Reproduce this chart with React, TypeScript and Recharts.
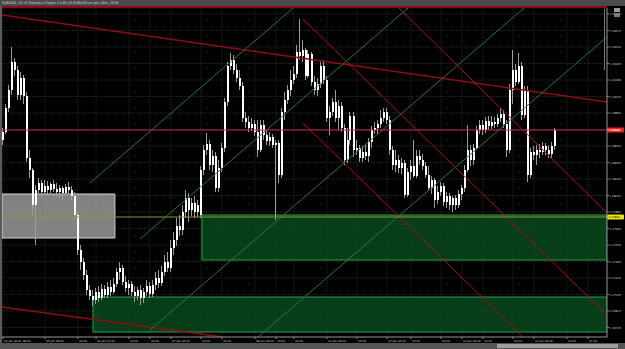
import {
  Bar,
  CartesianGrid,
  ComposedChart,
  ReferenceArea,
  ReferenceLine,
  XAxis,
  YAxis,
} from 'recharts'

// EURUSD H1 candles: [open, high, low, close]
const ohlc: [number, number, number, number][] = [
  [1.0858, 1.087, 1.0853, 1.0866], [1.0866, 1.0894, 1.0864, 1.089], [1.089, 1.0913, 1.0886, 1.0908],
  [1.0908, 1.0951, 1.0903, 1.0936], [1.0936, 1.094, 1.0922, 1.0928], [1.0928, 1.0932, 1.0898, 1.0903],
  [1.0903, 1.0926, 1.0898, 1.092], [1.092, 1.0923, 1.0894, 1.0902], [1.0902, 1.0906, 1.0836, 1.084],
  [1.084, 1.0848, 1.082, 1.0828], [1.0828, 1.083, 1.0783, 1.0793], [1.0793, 1.0813, 1.0753, 1.0808],
  [1.0808, 1.082, 1.0802, 1.0815], [1.0815, 1.0818, 1.0801, 1.0806], [1.0806, 1.0818, 1.0803, 1.0812],
  [1.0812, 1.0817, 1.0804, 1.0808], [1.0808, 1.0816, 1.0805, 1.0814], [1.0814, 1.0818, 1.0806, 1.0809],
  [1.0809, 1.0815, 1.0801, 1.0806], [1.0806, 1.0813, 1.08, 1.081], [1.081, 1.0812, 1.0798, 1.0805],
  [1.0805, 1.0814, 1.0802, 1.0811], [1.0811, 1.0816, 1.0803, 1.0808], [1.0808, 1.0812, 1.0798, 1.0802],
  [1.0802, 1.0806, 1.0778, 1.0783], [1.0783, 1.0786, 1.0743, 1.0748], [1.0748, 1.0753, 1.0728, 1.0736],
  [1.0736, 1.074, 1.0718, 1.0723], [1.0723, 1.0728, 1.0703, 1.0708], [1.0708, 1.0713, 1.0698, 1.0702],
  [1.0702, 1.0708, 1.0692, 1.0698], [1.0698, 1.071, 1.0694, 1.0706], [1.0706, 1.0712, 1.0696, 1.07],
  [1.07, 1.0714, 1.0698, 1.0709], [1.0709, 1.0713, 1.07, 1.0703], [1.0703, 1.0716, 1.07, 1.0711],
  [1.0711, 1.0718, 1.0702, 1.0706], [1.0706, 1.072, 1.0704, 1.0714], [1.0714, 1.073, 1.0711, 1.0726],
  [1.0726, 1.0736, 1.0718, 1.073], [1.073, 1.0733, 1.0713, 1.0716], [1.0716, 1.0722, 1.0706, 1.071],
  [1.071, 1.0718, 1.0703, 1.0714], [1.0714, 1.0717, 1.0702, 1.0706], [1.0706, 1.0712, 1.0696, 1.0702],
  [1.0702, 1.0711, 1.0698, 1.0708], [1.0708, 1.0713, 1.0693, 1.07], [1.07, 1.071, 1.0695, 1.0706],
  [1.0706, 1.0718, 1.0702, 1.0712], [1.0712, 1.0716, 1.07, 1.0704], [1.0704, 1.0718, 1.0701, 1.0713],
  [1.0713, 1.0726, 1.0708, 1.072], [1.072, 1.0728, 1.071, 1.0715], [1.0715, 1.0732, 1.0712, 1.0726],
  [1.0726, 1.0743, 1.0722, 1.0736], [1.0736, 1.0746, 1.0726, 1.073], [1.073, 1.0758, 1.0726, 1.075],
  [1.075, 1.0766, 1.0743, 1.0758], [1.0758, 1.078, 1.0752, 1.0772], [1.0772, 1.0783, 1.0762, 1.0768],
  [1.0768, 1.0793, 1.0763, 1.0786], [1.0786, 1.0808, 1.078, 1.08], [1.08, 1.0805, 1.0776, 1.0788],
  [1.0788, 1.08, 1.0782, 1.0795], [1.0795, 1.0802, 1.078, 1.0786], [1.0786, 1.0798, 1.0781, 1.0793],
  [1.0783, 1.0832, 1.078, 1.0828], [1.0828, 1.0853, 1.0823, 1.0848], [1.0848, 1.0865, 1.0843, 1.0854],
  [1.0854, 1.0858, 1.0828, 1.0833], [1.0833, 1.0848, 1.0826, 1.0842], [1.0842, 1.0846, 1.0806, 1.081],
  [1.081, 1.0838, 1.0806, 1.083], [1.083, 1.0855, 1.0826, 1.085], [1.085, 1.09, 1.0846, 1.0896],
  [1.0896, 1.0936, 1.0892, 1.0932], [1.0932, 1.0945, 1.0928, 1.0938], [1.0938, 1.0943, 1.0924, 1.0928],
  [1.0928, 1.0934, 1.0916, 1.092], [1.092, 1.0928, 1.0908, 1.0912], [1.0912, 1.0916, 1.0876, 1.088],
  [1.088, 1.0886, 1.087, 1.0876], [1.0876, 1.0882, 1.0866, 1.087], [1.087, 1.088, 1.0867, 1.0874],
  [1.0874, 1.0878, 1.0862, 1.0866], [1.0866, 1.0878, 1.0841, 1.0848], [1.0848, 1.0878, 1.0846, 1.0873],
  [1.0873, 1.0878, 1.0858, 1.0863], [1.0863, 1.0868, 1.0853, 1.0857], [1.0857, 1.0866, 1.0852, 1.0861],
  [1.0861, 1.0864, 1.085, 1.0853], [1.0853, 1.0858, 1.0778, 1.0855], [1.0855, 1.0858, 1.0815, 1.0823],
  [1.0823, 1.089, 1.082, 1.0886], [1.0886, 1.0906, 1.0878, 1.0898], [1.0898, 1.0913, 1.0894, 1.0908],
  [1.0908, 1.0928, 1.0902, 1.0918], [1.0918, 1.0932, 1.0914, 1.0924], [1.0924, 1.0953, 1.092, 1.0946],
  [1.0946, 1.0979, 1.0938, 1.0942], [1.0942, 1.0958, 1.0936, 1.0948], [1.0948, 1.095, 1.0918, 1.0922],
  [1.0922, 1.0948, 1.092, 1.0944], [1.0944, 1.0946, 1.0912, 1.0916], [1.0916, 1.0922, 1.0903, 1.0908],
  [1.0908, 1.092, 1.0902, 1.0914], [1.0914, 1.0936, 1.091, 1.0932], [1.0932, 1.0938, 1.0914, 1.0918],
  [1.0918, 1.0922, 1.0876, 1.088], [1.088, 1.0892, 1.0863, 1.0886], [1.0886, 1.09, 1.0882, 1.0896],
  [1.0896, 1.0908, 1.0876, 1.088], [1.088, 1.0898, 1.0868, 1.0892], [1.0892, 1.0896, 1.0866, 1.087],
  [1.087, 1.0874, 1.0833, 1.0838], [1.0838, 1.087, 1.0835, 1.0858], [1.0858, 1.0886, 1.0853, 1.0882],
  [1.0882, 1.0886, 1.0841, 1.0848], [1.0848, 1.0858, 1.0843, 1.085], [1.085, 1.0853, 1.0836, 1.084],
  [1.084, 1.0852, 1.0836, 1.0846], [1.0846, 1.0853, 1.0838, 1.0842], [1.0842, 1.086, 1.0836, 1.0856],
  [1.0856, 1.0872, 1.085, 1.0868], [1.0868, 1.0876, 1.0864, 1.087], [1.087, 1.0878, 1.0864, 1.0874],
  [1.0874, 1.0888, 1.087, 1.088], [1.088, 1.089, 1.0876, 1.0886], [1.0886, 1.089, 1.0874, 1.0878],
  [1.0878, 1.0882, 1.0843, 1.0848], [1.0848, 1.0852, 1.0828, 1.0833], [1.0833, 1.0848, 1.0826, 1.0838],
  [1.0838, 1.0843, 1.0825, 1.083], [1.083, 1.084, 1.0824, 1.0835], [1.0835, 1.0838, 1.08, 1.0803],
  [1.0803, 1.083, 1.0801, 1.0826], [1.0826, 1.0838, 1.0818, 1.0832], [1.0832, 1.0858, 1.082, 1.0822],
  [1.0822, 1.0848, 1.082, 1.0842], [1.0842, 1.0848, 1.0833, 1.0838], [1.0838, 1.0844, 1.0828, 1.0832],
  [1.0832, 1.0836, 1.082, 1.0823], [1.0823, 1.0832, 1.0807, 1.081], [1.081, 1.0822, 1.0804, 1.0818],
  [1.0818, 1.082, 1.079, 1.0798], [1.0798, 1.0812, 1.0794, 1.0806], [1.0806, 1.0816, 1.0802, 1.0812],
  [1.0812, 1.0815, 1.0792, 1.0796], [1.0796, 1.0806, 1.079, 1.0802], [1.0802, 1.0805, 1.0788, 1.0793],
  [1.0793, 1.0802, 1.0786, 1.08], [1.08, 1.0803, 1.0788, 1.0793], [1.0793, 1.0808, 1.079, 1.0804],
  [1.0804, 1.0813, 1.0798, 1.081], [1.081, 1.0833, 1.0806, 1.0828], [1.0828, 1.0873, 1.0826, 1.0848],
  [1.0848, 1.0853, 1.0832, 1.0838], [1.0838, 1.0854, 1.0833, 1.085], [1.085, 1.0872, 1.0848, 1.0868],
  [1.0868, 1.0878, 1.0864, 1.0873], [1.0873, 1.0878, 1.0863, 1.0868], [1.0868, 1.0881, 1.0865, 1.0877],
  [1.0877, 1.0882, 1.0868, 1.0872], [1.0872, 1.0882, 1.0869, 1.0876], [1.0876, 1.0881, 1.087, 1.0874],
  [1.0874, 1.0884, 1.0871, 1.088], [1.088, 1.089, 1.0876, 1.0884], [1.0884, 1.0888, 1.087, 1.0874],
  [1.0874, 1.0878, 1.0841, 1.0848], [1.0848, 1.0914, 1.0845, 1.0908], [1.0908, 1.0948, 1.0894, 1.0928],
  [1.0928, 1.0934, 1.0912, 1.0916], [1.0916, 1.0945, 1.0914, 1.0932], [1.0932, 1.0936, 1.0878, 1.0883],
  [1.0883, 1.0912, 1.088, 1.0908], [1.0908, 1.0912, 1.0816, 1.0823], [1.0823, 1.085, 1.082, 1.0846],
  [1.0846, 1.0852, 1.0838, 1.0843], [1.0843, 1.0853, 1.0833, 1.0848], [1.0848, 1.0854, 1.084, 1.0846],
  [1.0846, 1.0856, 1.0843, 1.0852], [1.0852, 1.0855, 1.0843, 1.0848], [1.0848, 1.0853, 1.084, 1.0844],
  [1.0844, 1.0856, 1.084, 1.0852], [1.0852, 1.087, 1.0848, 1.0868],
]

const priceTicks = [
  1.0984, 1.09675, 1.0951, 1.09345, 1.0918, 1.09015, 1.0885, 1.08685, 1.0852, 1.08355,
  1.0819, 1.08025, 1.0786, 1.07695, 1.0753, 1.07365, 1.072, 1.07035, 1.0687, 1.06705,
]
const timeTicks = [0, 14, 25, 31, 42, 49, 56, 66, 73, 84, 91, 97, 108, 118, 128, 136, 146, 153, 160, 170, 177, 188, 195]
const timeLabels = [
  '04 Jan 2016, 18:00', '05 Jan 08:00', '19:00', '06 Jan 01:00', '12:00', '19:00', '07 Jan 02:00',
  '12:00', '19:00', '08 Jan 06:00', '13:00', '19:00', '11 Jan 06:00', '16:00', '12 Jan 02:00',
  '10:00', '20:00', '13 Jan 03:00', '10:00', '20:00', '14 Jan 03:00', '14:00', '21:00',
]

// drawn objects, in bar index / price
const currentPrice = 1.0868
const supportLevel = 1.0781
const trendLines: [number, number, number, number][] = [
  [-0.33, 1.0983, 201.33, 1.0896],
  [-0.33, 1.0691, 73.3, 1.0661],
]
const channel: [number, number, number, number][] = [
  [29, 1.0815, 96.7, 1.099],
  [45.7, 1.0759, 135, 1.099],
  [49, 1.0668, 173.7, 1.099],
  [85, 1.0661, 201.33, 1.0961],
]
const rays: [number, number, number, number][] = [
  [100, 1.0979, 201.33, 1.0683],
  [132, 1.099, 201.33, 1.0785],
  [100, 1.0875, 173.3, 1.0661],
]
const grayZone = [-0.33, 37.3, 1.076, 1.0804]
const demandZones: [number, number, number, number][] = [
  [66.3, 201.33, 1.0738, 1.0783],
  [30, 201.33, 1.0666, 1.0701],
]

const rows = ohlc.map(([o, h, l, c], i) => ({ i, o, h, l, c, range: [l, h] }))

const FONT = '"DejaVu Sans", sans-serif'

function Candle(props: any) {
  const { x, y, width, height, payload } = props
  const { o, h, l, c } = payload
  const top = Math.min(y, y + height)
  const hh = Math.abs(height)
  const k = h - l > 0 ? hh / (h - l) : 0
  const cx = Math.round(x + width / 2)
  const b1 = top + (h - Math.max(o, c)) * k
  const b2 = top + (h - Math.min(o, c)) * k
  return (
    <g>
      <rect x={cx - 1} y={top} width={1} height={Math.max(hh, 1)} fill="#9c9c9c" />
      <rect x={cx - 1} y={b1} width={2} height={Math.max(b2 - b1, 1)} fill="#ffffff" />
    </g>
  )
}

function TimeTick({ x, y, payload }: any) {
  const idx = timeTicks.indexOf(payload.value)
  return (
    <text x={x + 1} y={y + 2.6} fill="#c8c8c8" fontSize={2.8} fontFamily={FONT} textAnchor="start">
      {timeLabels[idx]}
    </text>
  )
}

function PriceTick({ x, y, payload }: any) {
  return (
    <text x={x + 0.5} y={y + 1} fill="#c8c8c8" fontSize={2.8} fontFamily={FONT} textAnchor="start">
      {payload.value.toFixed(5)}
    </text>
  )
}

function priceTag(bg: string, fg: string, value: number) {
  return (p: any) => {
    const vb = p.viewBox || {}
    const right = (vb.x ?? 0) + (vb.width ?? 0)
    const yy = vb.y ?? 0
    return (
      <g>
        <rect x={right} y={yy - 2.5} width={17} height={5} rx={1} fill={bg} />
        <text x={right + 1.5} y={yy + 1} fill={fg} fontSize={2.8} fontFamily={FONT}>
          {value.toFixed(5)}
        </text>
      </g>
    )
  }
}

export default function App() {
  return (
    <div
      style={{
        position: 'fixed',
        left: 0,
        top: 0,
        width: 625,
        height: 349,
        background: '#000',
        overflow: 'hidden',
        fontFamily: FONT,
      }}
    >
      <ComposedChart
        width={625}
        height={349}
        data={rows}
        margin={{ top: 8, right: 0, left: 2, bottom: 6 }}
      >
        <CartesianGrid stroke="#262626" strokeDasharray="1 1" />
        <XAxis
          dataKey="i"
          type="number"
          domain={[-1 / 3, 604 / 3]}
          allowDataOverflow
          ticks={timeTicks}
          interval={0}
          height={6}
          tickSize={2}
          tickMargin={0}
          stroke="#8a8a8a"
          tick={<TimeTick />}
        />
        <YAxis
          orientation="right"
          type="number"
          domain={[1.0661, 1.099]}
          allowDataOverflow
          ticks={priceTicks}
          interval={0}
          width={18}
          tickSize={2}
          tickMargin={0}
          stroke="#8a8a8a"
          tick={<PriceTick />}
        />
        <ReferenceArea
          x1={grayZone[0]}
          x2={grayZone[1]}
          y1={grayZone[2]}
          y2={grayZone[3]}
          fill="#b4b4b4"
          fillOpacity={0.72}
          stroke="#d2d2d2"
          ifOverflow="hidden"
        />
        {demandZones.map(([x1, x2, y1, y2], k) => (
          <ReferenceArea
            key={'z' + k}
            x1={x1}
            x2={x2}
            y1={y1}
            y2={y2}
            fill="#0a4a20"
            fillOpacity={0.82}
            stroke="#28a04a"
            ifOverflow="hidden"
          />
        ))}
        <Bar dataKey="range" barSize={2} shape={<Candle />} isAnimationActive={false} />
        {trendLines.map(([x1, y1, x2, y2], k) => (
          <ReferenceLine
            key={'t' + k}
            segment={[{ x: x1, y: y1 }, { x: x2, y: y2 }]}
            stroke="#8e0c16"
            strokeWidth={1.5}
            ifOverflow="hidden"
          />
        ))}
        {channel.map(([x1, y1, x2, y2], k) => (
          <ReferenceLine
            key={'c' + k}
            segment={[{ x: x1, y: y1 }, { x: x2, y: y2 }]}
            stroke="#1e7a3c"
            strokeWidth={1}
            ifOverflow="hidden"
          />
        ))}
        {rays.map(([x1, y1, x2, y2], k) => (
          <ReferenceLine
            key={'r' + k}
            segment={[{ x: x1, y: y1 }, { x: x2, y: y2 }]}
            stroke="#b40a16"
            strokeWidth={1}
            ifOverflow="hidden"
          />
        ))}
        <ReferenceLine
          y={supportLevel}
          stroke="#8c9a2a"
          strokeWidth={1}
          label={priceTag('#e8e810', '#000', supportLevel)}
        />
        <ReferenceLine
          y={currentPrice}
          stroke="#c4284a"
          strokeWidth={1}
          label={priceTag('#ff1c1c', '#fff', currentPrice)}
        />
      </ComposedChart>

      {/* title bar */}
      <div
        style={{
          position: 'absolute',
          left: 0,
          top: 0,
          width: 625,
          height: 6,
          background: '#4b4b4b',
          color: '#dcdcdc',
          fontSize: 3.4,
          lineHeight: '6px',
          paddingLeft: 2,
          whiteSpace: 'nowrap',
        }}
      >
        EURUSD, H1  IC Markets cTrader 11:45:20 EURUSD on Jan 15th, 2016
      </div>
      <div style={{ position: 'absolute', left: 0, top: 6, width: 607, height: 1.5, background: '#8a0c14' }} />
      {/* left border */}
      <div style={{ position: 'absolute', left: 0, top: 6, width: 1.5, height: 337, background: '#5a5a5a' }} />
      {/* corner icons and ruler */}
      <div style={{ position: 'absolute', left: 614, top: 8, width: 6, height: 4, background: '#9a9a9a' }} />
      <div style={{ position: 'absolute', left: 614, top: 13, width: 6, height: 4, background: '#7a7a7a' }} />
      <div style={{ position: 'absolute', left: 604, top: 9, width: 1, height: 61, background: '#7c7c7c' }} />
      {/* scroll bar */}
      <div style={{ position: 'absolute', left: 0, top: 343, width: 625, height: 6, background: '#555' }} />
      <div style={{ position: 'absolute', left: 497, top: 344, width: 121, height: 3.5, background: '#a0a0a0' }} />
    </div>
  )
}
